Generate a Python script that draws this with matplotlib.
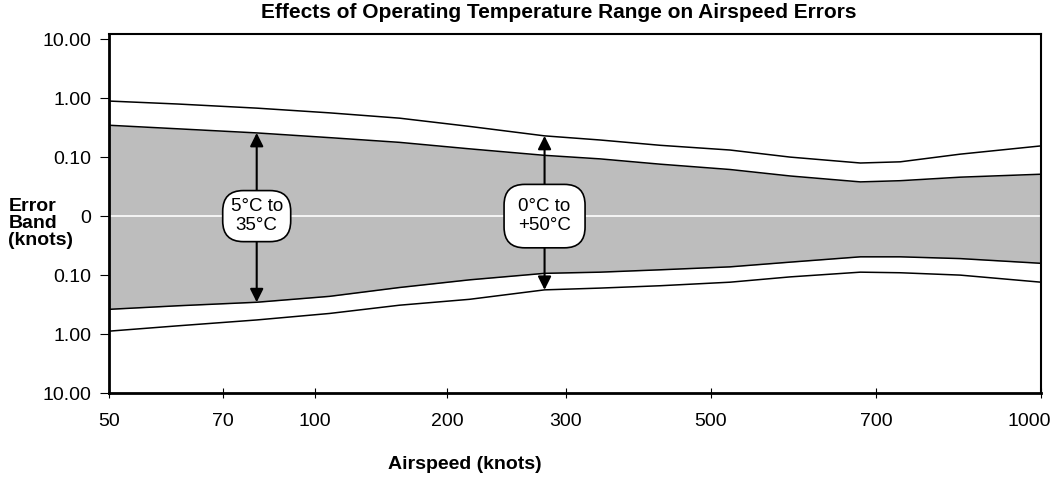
"""Effects of operating temperature range on airspeed errors (band chart)."""

import numpy as np
import matplotlib.pyplot as plt
import matplotlib.transforms as mtransforms

plt.rcParams['font.family'] = ['Liberation Sans', 'DejaVu Sans']

# ── data ──────────────────────────────────────────────────────────────────────
airspeed_ticks = [50, 70, 100, 200, 300, 500, 700, 1000]
error_ticks    = [-3, -2, -1, 0, 1, 2, 3]
error_labels   = ['10.00', '1.00', '0.10', '0', '0.10', '1.00', '10.00']

# band edges, in "decade levels" (0 = centre, ±1 = 0.10, ±2 = 1.00, ±3 = 10.00)
airspeed    = [50, 62, 81, 111, 164, 219, 282, 347, 430, 523, 596, 681, 744, 853, 1000]
outer_upper = [1.95, 1.90, 1.83, 1.75, 1.66, 1.52, 1.36, 1.29, 1.20, 1.12, 1.00, 0.90, 0.92, 1.05, 1.19]
inner_upper = [1.54, 1.48, 1.41, 1.33, 1.25, 1.14, 1.03, 0.97, 0.88, 0.79, 0.68, 0.58, 0.60, 0.66, 0.71]
inner_lower = [-1.58, -1.52, -1.46, -1.36, -1.21, -1.08, -0.97, -0.95, -0.91, -0.86, -0.78, -0.69, -0.69, -0.72, -0.80]
outer_lower = [-1.95, -1.86, -1.76, -1.65, -1.51, -1.41, -1.25, -1.22, -1.18, -1.12, -1.03, -0.95, -0.96, -1.00, -1.12]

arrow_speed  = [81, 282]
arrow_labels = ['5°C to\n35°C', '0°C to\n+50°C']

# ── axis mapping (tick spacing in the original is neither linear nor log) ────
XTICK_FRAC = [0.0, 0.1223, 0.2210, 0.3627, 0.4903, 0.6459, 0.8230, 1.0]


def _fwd(x):
    return np.interp(x, airspeed_ticks, XTICK_FRAC)


def _inv(p):
    return np.interp(p, XTICK_FRAC, airspeed_ticks)


fig = plt.figure(figsize=(10.54, 4.8), dpi=100)
ax = fig.add_axes([0.1034, 0.181, 0.8843, 0.748])
ax.set_xscale('function', functions=(_fwd, _inv))

ax.fill_between(airspeed, inner_lower, inner_upper, color='#bdbdbd', lw=0)
ax.axhline(0, color='white', lw=1.2)
for curve in (outer_upper, inner_upper, inner_lower, outer_lower):
    ax.plot(airspeed, curve, color='black', lw=1.1)

# double arrows + rounded labels
ends = [(np.interp(arrow_speed[0], airspeed, inner_upper),
         np.interp(arrow_speed[0], airspeed, inner_lower)),
        (np.interp(arrow_speed[1], airspeed, outer_upper),
         np.interp(arrow_speed[1], airspeed, outer_lower))]
pads = [0.42, 0.75]
for xs, (top, bot), lab, pad in zip(arrow_speed, ends, arrow_labels, pads):
    for yy in (top, bot):
        ax.annotate('', xy=(xs, yy), xytext=(xs, 0),
                    arrowprops=dict(arrowstyle='-|>', color='black', lw=1.5,
                                    mutation_scale=20, shrinkA=0, shrinkB=0))
    ax.text(xs, 0, lab, ha='center', va='center', fontsize=13.5,
            linespacing=1.1,
            bbox=dict(boxstyle=f'round,pad={pad},rounding_size=1.1',
                      fc='white', ec='black', lw=1.2))

ax.set_xlim(50, 1000)
ax.set_ylim(-3, 3.085)
ax.set_xticks(airspeed_ticks)
ax.set_xticklabels([str(v) for v in airspeed_ticks], fontsize=14)
ax.xaxis.set_minor_locator(plt.NullLocator())
ax.set_yticks(error_ticks)
ax.set_yticklabels(error_labels, fontsize=14)
ax.tick_params(axis='y', direction='out', length=6.5, width=0.8, pad=6)
ax.tick_params(axis='x', direction='inout', length=7, width=0.8, pad=10.5)
for side, sp in ax.spines.items():
    sp.set_linewidth(2.0 if side in ('left', 'bottom') else 1.5)

# last x label sits a bit left of its tick, as in the original
last = ax.get_xticklabels()[-1]
last.set_transform(last.get_transform() +
                   mtransforms.ScaledTranslation(-0.12, 0, fig.dpi_scale_trans))

fig.text(0.530, 0.975, 'Effects of Operating Temperature Range on Airspeed Errors',
         ha='center', va='center', fontsize=15, fontweight='bold')
fig.text(0.008, 0.535, 'Error\nBand\n(knots)', ha='left', va='center',
         fontsize=14, fontweight='bold', linespacing=1.0)
fig.text(0.441, 0.032, 'Airspeed (knots)', ha='center', va='center',
         fontsize=14, fontweight='bold')

fig.savefig('out.png', dpi=100)
